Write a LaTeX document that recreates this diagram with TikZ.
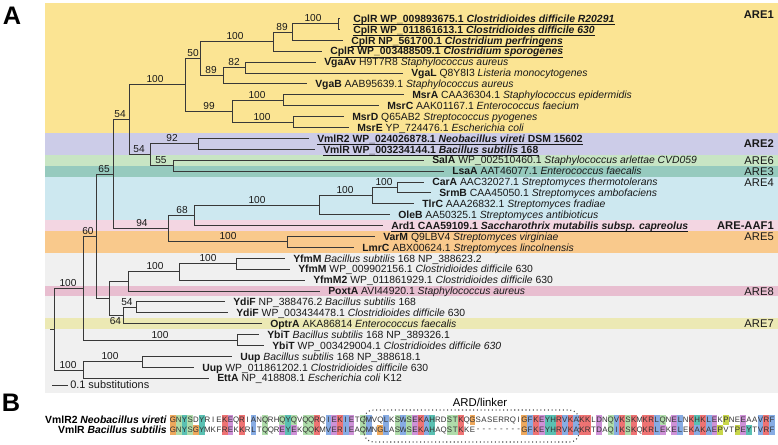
\documentclass[tikz,border=0pt]{standalone}
\usepackage{fontspec}
\setmainfont{Liberation Sans}
\usetikzlibrary{calc}
\definecolor{bgY}{RGB}{251,228,147}
\definecolor{bgP}{RGB}{204,204,232}
\definecolor{bgG}{RGB}{200,229,196}
\definecolor{bgT}{RGB}{150,202,190}
\definecolor{bgB}{RGB}{205,232,240}
\definecolor{bgK}{RGB}{243,214,226}
\definecolor{bgO}{RGB}{249,201,140}
\definecolor{bgGr}{RGB}{240,240,240}
\definecolor{bgKK}{RGB}{232,190,208}
\definecolor{bgYY}{RGB}{236,233,180}
\definecolor{alo}{RGB}{238,168,92}
\definecolor{alg}{RGB}{175,220,170}
\definecolor{alt}{RGB}{90,192,178}
\definecolor{alr}{RGB}{238,115,115}
\definecolor{alm}{RGB}{206,145,215}
\definecolor{alb}{RGB}{135,172,228}
\definecolor{aly}{RGB}{200,214,75}
\definecolor{aln}{RGB}{255,255,255}
\tikzset{
 br/.style={draw=black!78, line width=0.75pt},
 leaf/.style={anchor=west, inner sep=0pt, text height=5.6pt, text depth=0pt, font=\fontsize{7.8}{8}\selectfont, text=black!90},
 bsl/.style={anchor=south, inner sep=0.6pt, font=\fontsize{7.6}{8}\selectfont, text=black!90},
 arel/.style={anchor=east, inner sep=0pt, text height=6pt, text depth=0pt, font=\fontsize{8.4}{9}\selectfont, text=black!90},
 ulin/.style={draw=black!90, line width=0.5pt},
 aa/.style={inner sep=0pt, font=\fontsize{5.9}{6}\selectfont, text=black!80},
 seqlab/.style={anchor=east, inner sep=0pt, text height=5.6pt, text depth=0pt, font=\fontsize{7.8}{8}\selectfont},
 panlab/.style={inner sep=0pt, font=\bfseries\fontsize{19}{19}\selectfont},
}
\newcommand\mkleaf[5]{\coordinate (t#1) at (#3,{18.5+10.9*#1}); \draw[br] (#2) |- (t#1); \node[leaf] (L#1) at (#4,{18.5+10.9*#1}) {#5};}
\newcommand\ulleaf[1]{\draw[ulin] ([yshift=-1.3pt]L#1.south west) -- ([yshift=-1.3pt]L#1.south east);}
\newcommand\bsv[4]{\node[bsl] (#1) at (#2,{#3-0.8}) {#4};}
\begin{document}
\begin{tikzpicture}[x=0.75pt,y=-0.75pt]
\useasboundingbox (0,0) rectangle (778,444);
% background bands
\fill[bgY] (45,3) rectangle (778,132.95);
\fill[bgP] (45,132.95) rectangle (778,154.75);
\fill[bgG] (45,154.75) rectangle (778,165.65);
\fill[bgT] (45,165.65) rectangle (778,176.55);
\fill[bgB] (45,176.55) rectangle (778,220.15);
\fill[bgK] (45,220.15) rectangle (778,231.05);
\fill[bgO] (45,231.05) rectangle (778,252.85);
\fill[bgGr] (45,252.85) rectangle (778,393);
\fill[bgKK] (45,285.55) rectangle (778,296.45);
\fill[bgYY] (45,318.35) rectangle (778,329.25);
% panel labels
\node[panlab] (pA) at (12,16) {A};
\node[panlab] (pB) at (11,403) {B};
% internal nodes
\coordinate (c100) at (338,23.95);
\coordinate (c89) at (292,32.1);
\coordinate (cC) at (273,41.7);
\coordinate (v82) at (245,67.55);
\coordinate (v89) at (223,75.7);
\coordinate (n50) at (200,58.7);
\coordinate (mAC) at (283,100.25);
\coordinate (mDE) at (293,122.05);
\coordinate (m99) at (232,111.15);
\coordinate (are1) at (185,84.9);
\coordinate (v92) at (198,143.85);
\coordinate (s55) at (173,165.65);
\coordinate (n54b) at (150,154.75);
\coordinate (n54a) at (129,119.8);
\coordinate (cs) at (397,187.45);
\coordinate (ct) at (372,195.6);
\coordinate (co) at (319,205.15);
\coordinate (n68) at (194,215.4);
\coordinate (vl) at (287,241.95);
\coordinate (n94) at (168,228.7);
\coordinate (n65) at (113,174.25);
\coordinate (y100z) at (236,263.75);
\coordinate (y100y) at (179,271.9);
\coordinate (yP) at (128,281.45);
\coordinate (d54) at (136,307.35);
\coordinate (d64) at (123,315.5);
\coordinate (nX) at (109,298.5);
\coordinate (n60) at (96,236.4);
\coordinate (yb) at (237,340.05);
\coordinate (n100m) at (83,288.2);
\coordinate (uu) at (142,361.85);
\coordinate (n100u) at (83,370);
\coordinate (root) at (54,329.1);
\coordinate (r0) at (50,329.1);
% internal edges
\draw[br] (r0) -- (root);
\draw[br] (root) |- (n100m); \draw[br] (root) |- (n100u);
\draw[br] (n100m) |- (n60); \draw[br] (n100m) |- (yb);
\draw[br] (n100u) |- (uu);
\draw[br] (n60) |- (n65); \draw[br] (n60) |- (nX);
\draw[br] (nX) |- (yP); \draw[br] (nX) |- (d64);
\draw[br] (yP) |- (y100y); \draw[br] (y100y) |- (y100z);
\draw[br] (d64) |- (d54);
\draw[br] (n65) |- (n54a); \draw[br] (n65) |- (n94);
\draw[br] (n94) |- (n68); \draw[br] (n94) |- (vl);
\draw[br] (n68) |- (co); \draw[br] (co) |- (ct); \draw[br] (ct) |- (cs);
\draw[br] (n54a) |- (are1); \draw[br] (n54a) |- (n54b);
\draw[br] (n54b) |- (v92); \draw[br] (n54b) |- (s55);
\draw[br] (are1) |- (n50); \draw[br] (are1) |- (m99);
\draw[br] (m99) |- (mAC); \draw[br] (m99) |- (mDE);
\draw[br] (n50) |- (cC); \draw[br] (n50) |- (v89);
\draw[br] (v89) |- (v82);
\draw[br] (cC) |- (c89); \draw[br] (c89) |- (c100);
% leaves
\mkleaf{0}{c100}{340}{353}{\textbf{CplR WP\_009893675.1 \textit{Clostridioides difficile R20291}}}
\mkleaf{1}{c100}{340}{353}{\textbf{CplR WP\_011861613.1 \textit{Clostridioides difficile 630}}}
\mkleaf{2}{c89}{343}{351}{\textbf{CplR NP\_561700.1 \textit{Clostridium perfringens}}}
\mkleaf{3}{cC}{322}{330}{\textbf{CplR WP\_003488509.1 \textit{Clostridium sporogenes}}}
\mkleaf{4}{v82}{316}{324}{\textbf{VgaAv} H9T7R8 \textit{Staphylococcus aureus}}
\mkleaf{5}{v82}{403}{411}{\textbf{VgaL} Q8Y8I3 \textit{Listeria monocytogenes}}
\mkleaf{6}{v89}{307}{315}{\textbf{VgaB} AAB95639.1 \textit{Staphylococcus aureus}}
\mkleaf{7}{mAC}{404}{412}{\textbf{MsrA} CAA36304.1 \textit{Staphylococcus epidermidis}}
\mkleaf{8}{mAC}{379}{387}{\textbf{MsrC} AAK01167.1 \textit{Enterococcus faecium}}
\mkleaf{9}{mDE}{344}{352}{\textbf{MsrD} Q65AB2 \textit{Streptococcus pyogenes}}
\mkleaf{10}{mDE}{349}{357}{\textbf{MsrE} YP\_724476.1 \textit{Escherichia coli}}
\mkleaf{11}{v92}{309}{317}{\textbf{VmlR2 WP\_024026878.1 \textit{Neobacillus vireti} DSM 15602}}
\mkleaf{12}{v92}{315}{323}{\textbf{VmlR WP\_003234144.1 \textit{Bacillus subtilis} 168}}
\mkleaf{13}{s55}{424}{432}{\textbf{SalA} WP\_002510460.1 \textit{Staphylococcus arlettae CVD059}}
\mkleaf{14}{s55}{444}{452}{\textbf{LsaA} AAT46077.1 \textit{Enterococcus faecalis}}
\mkleaf{15}{cs}{424}{432}{\textbf{CarA} AAC32027.1 \textit{Streptomyces thermotolerans}}
\mkleaf{16}{cs}{431}{439}{\textbf{SrmB} CAA45050.1 \textit{Streptomyces ambofaciens}}
\mkleaf{17}{ct}{414}{422}{\textbf{TlrC} AAA26832.1 \textit{Streptomyces fradiae}}
\mkleaf{18}{co}{390}{398}{\textbf{OleB} AA50325.1 \textit{Streptomyces antibioticus}}
\mkleaf{19}{n68}{383}{391}{\textbf{Ard1 CAA59109.1 \textit{Saccharothrix mutabilis subsp. capreolus}}}
\mkleaf{20}{vl}{375}{383}{\textbf{VarM} Q9LBV4 \textit{Streptomyces virginiae}}
\mkleaf{21}{vl}{354}{362}{\textbf{LmrC} ABX00624.1 \textit{Streptomyces lincolnensis}}
\mkleaf{22}{y100z}{285}{293}{\textbf{YfmM} \textit{Bacillus subtilis} 168 NP\_388623.2}
\mkleaf{23}{y100z}{290}{298}{\textbf{YfmM} WP\_009902156.1 \textit{Clostridioides difficile} 630}
\mkleaf{24}{y100y}{305}{313}{\textbf{YfmM2} WP\_011861929.1 \textit{Clostridioides difficile} 630}
\mkleaf{25}{yP}{320}{328}{\textbf{PoxtA} AVI44920.1 \textit{Staphylococcus aureus}}
\mkleaf{26}{d54}{225}{233}{\textbf{YdiF} NP\_388476.2 \textit{Bacillus subtilis} 168}
\mkleaf{27}{d54}{228}{236}{\textbf{YdiF} WP\_003434478.1 \textit{Clostridioides difficile} 630}
\mkleaf{28}{d64}{262}{270}{\textbf{OptrA} AKA86814 \textit{Enterococcus faecalis}}
\mkleaf{29}{yb}{259}{267}{\textbf{YbiT} \textit{Bacillus subtilis} 168 NP\_389326.1}
\mkleaf{30}{yb}{264}{272}{\textbf{YbiT} WP\_003429004.1 \textit{Clostridioides difficile 630}}
\mkleaf{31}{uu}{232}{240}{\textbf{Uup} \textit{Bacillus subtilis} 168 NP\_388618.1}
\mkleaf{32}{uu}{194}{202}{\textbf{Uup} WP\_011861202.1 \textit{Clostridioides difficile} 630}
\mkleaf{33}{n100u}{209}{217}{\textbf{EttA} NP\_418808.1 \textit{Escherichia coli} K12}
\ulleaf{0}\ulleaf{1}\ulleaf{2}\ulleaf{3}\ulleaf{11}\ulleaf{12}\ulleaf{19}
% bootstrap values
\bsv{b1}{313}{23.95}{100}
\bsv{b2}{282}{32.1}{89}
\bsv{b3}{235}{41.7}{100}
\bsv{b4}{193}{58.7}{50}
\bsv{b5}{234}{67.55}{82}
\bsv{b6}{211}{75.7}{89}
\bsv{b7}{155}{84.9}{100}
\bsv{b8}{257}{100.25}{100}
\bsv{b9}{209}{111.15}{99}
\bsv{b10}{262}{122.05}{100}
\bsv{b11}{120}{119.8}{54}
\bsv{b12}{172}{143.85}{92}
\bsv{b13}{139}{154.75}{54}
\bsv{b14}{161}{165.65}{55}
\bsv{b15}{104}{174.25}{65}
\bsv{b16}{384}{187.45}{100}
\bsv{b17}{345}{195.6}{100}
\bsv{b18}{257}{205.15}{100}
\bsv{b19}{182}{215.4}{68}
\bsv{b20}{142}{228.7}{94}
\bsv{b21}{228}{241.95}{100}
\bsv{b22}{88}{236.4}{60}
\bsv{b23}{208}{263.75}{100}
\bsv{b24}{155}{271.9}{100}
\bsv{b25}{127}{307.35}{54}
\node[bsl, anchor=north] (b26) at (115.5,316.3) {64};
\bsv{b27}{160}{340.05}{100}
\bsv{b28}{68}{288.2}{100}
\bsv{b29}{110}{361.85}{100}
\bsv{b30}{68}{370}{100}
% scale bar
\coordinate (sb1) at (52,385);
\coordinate (sb2) at (68,385);
\draw[br] (sb1) -- (sb2);
\node[leaf, font=\fontsize{8.2}{9}\selectfont] (sbt) at (70,385) {0.1 substitutions};
% ARE labels
\node[arel] (a1) at (774,14) {\textbf{ARE1}};
\node[arel] (a2) at (774,143.8) {\textbf{ARE2}};
\node[arel] (a6) at (774,160.2) {ARE6};
\node[arel] (a3) at (774,171.1) {ARE3};
\node[arel] (a4) at (774,182) {ARE4};
\node[arel] (aaf) at (774,225.6) {\textbf{ARE-AAF1}};
\node[arel] (a5) at (774,236.5) {ARE5};
\node[arel] (a8) at (774,291) {ARE8};
\node[arel] (a7) at (774,323.7) {ARE7};
% panel B
\node[seqlab] (s1) at (167,420) {\textbf{VmlR2 \textit{Neobacillus vireti}}};
\node[seqlab] (s2) at (167,430) {\textbf{VmlR \textit{Bacillus subtilis}}};
\foreach \a/\k [count=\i] in {G/o,N/g,Y/t,S/g,D/n,Y/t,R/n,I/n,E/n,K/r,E/m,Q/n,R/r,I/n,A/b,N/n,Q/g,R/n,H/n,Q/g,Y/t,Q/g,V/n,Q/g,Q/g,R/r,Q/n,I/b,E/m,K/r,I/b,E/m,T/n,Q/g,M/b,V/n,Q/n,L/b,K/n,S/g,W/b,S/g,E/m,K/r,A/b,H/t,R/n,D/n,S/g,T/g,K/r,Q/n,G/o,S/n,A/n,S/n,E/n,R/n,R/n,Q/n,I/n,G/o,F/b,K/r,E/m,Y/t,H/t,R/r,V/b,K/r,A/b,K/r,K/r,L/n,D/m,N/n,Q/g,V/b,K/r,S/g,K/r,M/n,K/r,R/r,L/b,Q/g,N/n,E/m,L/b,N/n,K/r,H/t,K/r,L/b,E/m,K/n,P/y,N/n,E/n,E/m,A/n,A/n,V/b,R/r,F/b}{
  \fill[fill=al\k] ({170+(\i-1)*5.762},415.3) rectangle ({170+\i*5.762},424.7);
  \node[aa] (ra\i) at ({170+(\i-0.5)*5.762},420) {\a};
}
\foreach \a/\k [count=\i] in {G/o,N/g,Y/t,S/g,G/o,Y/t,M/n,K/n,F/n,R/r,E/m,K/n,K/r,R/n,L/b,T/n,Q/g,Q/n,R/n,E/m,Y/t,E/m,K/n,Q/g,Q/g,K/r,M/n,V/b,E/m,R/r,I/b,E/m,A/n,Q/g,M/b,N/n,G/o,L/b,A/n,S/g,W/b,S/g,E/m,K/r,A/b,H/t,A/n,Q/n,S/g,T/g,K/r,K/n,E/n,-/n,-/n,-/n,-/n,-/n,-/n,-/n,-/n,G/o,F/b,K/r,E/m,Y/t,H/t,R/r,V/b,K/r,A/b,K/r,R/r,T/n,D/m,A/n,Q/g,I/b,K/r,S/g,K/r,Q/n,K/r,R/r,L/b,E/m,K/n,E/m,L/b,E/n,K/r,A/b,K/r,A/b,E/m,P/y,V/n,T/n,P/y,E/m,Y/t,T/n,V/b,R/r,F/b}{
  \fill[fill=al\k] ({170+(\i-1)*5.762},425.3) rectangle ({170+\i*5.762},434.7);
  \node[aa] (rb\i) at ({170+(\i-0.5)*5.762},430) {\a};
}
\draw[black!70, line width=0.8pt, dotted, rounded corners=7pt] (364,410) rectangle (579,442);
\node[inner sep=0pt, font=\fontsize{8.5}{9}\selectfont] (ard) at (480,402) {ARD/linker};
\end{tikzpicture}
\end{document}
